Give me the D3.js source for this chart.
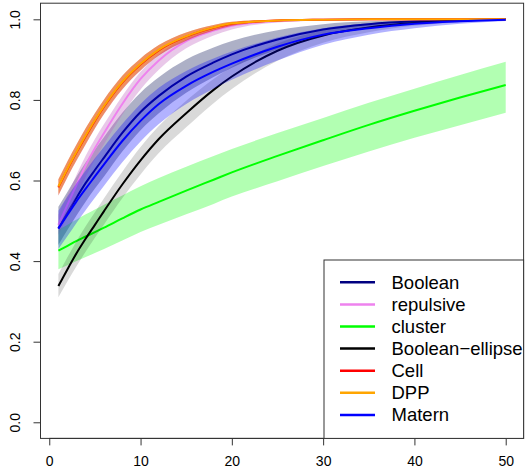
<!DOCTYPE html>
<html><head><meta charset="utf-8">
<script src="https://cdn.jsdelivr.net/npm/d3@7"></script>
<style>body{margin:0;background:#fff}svg{display:block}text{font-family:"Liberation Sans",Arial,sans-serif}</style>
</head><body>
<svg id="c" width="526" height="474"></svg>
<script>
const xs = [1,2,3,4,5,6,8,10,12,15,18,20,25,30,35,40,45,50];

const booleanMean  = [0.481,0.520,0.558,0.594,0.626,0.657,0.718,0.770,0.810,0.858,0.893,0.913,0.950,0.975,0.988,0.995,0.998,1.000];
const booleanLo    = [0.440,0.478,0.514,0.548,0.580,0.610,0.672,0.725,0.767,0.818,0.857,0.880,0.925,0.958,0.978,0.990,0.996,0.999];
const booleanHi    = [0.535,0.572,0.610,0.645,0.677,0.708,0.768,0.818,0.856,0.900,0.930,0.946,0.973,0.988,0.995,0.998,0.999,1.000];

const repulsiveMean = [0.490,0.540,0.590,0.638,0.680,0.718,0.790,0.852,0.898,0.946,0.972,0.984,0.996,0.999,1,1,1,1];
const repulsiveLo   = [0.465,0.513,0.562,0.610,0.652,0.690,0.763,0.826,0.875,0.928,0.960,0.975,0.992,0.997,0.999,1,1,1];
const repulsiveHi   = [0.515,0.565,0.615,0.662,0.703,0.740,0.810,0.870,0.913,0.957,0.980,0.990,0.998,1,1,1,1,1];

const clusterMean = [0.426,0.438,0.450,0.461,0.472,0.483,0.506,0.528,0.547,0.575,0.602,0.620,0.661,0.700,0.738,0.773,0.806,0.837];
const clusterLo   = [0.380,0.390,0.400,0.410,0.420,0.430,0.451,0.472,0.490,0.516,0.542,0.560,0.598,0.636,0.672,0.706,0.737,0.768];
const clusterHi   = [0.477,0.490,0.503,0.516,0.528,0.540,0.563,0.586,0.606,0.634,0.661,0.678,0.718,0.755,0.793,0.828,0.862,0.895];

const ellipseMean = [0.338,0.380,0.420,0.456,0.490,0.524,0.590,0.650,0.703,0.767,0.825,0.858,0.922,0.960,0.980,0.991,0.997,1.000];
const ellipseLo   = [0.310,0.350,0.388,0.424,0.458,0.491,0.556,0.615,0.668,0.732,0.792,0.827,0.897,0.942,0.968,0.984,0.993,0.998];
const ellipseHi   = [0.368,0.410,0.450,0.487,0.521,0.556,0.622,0.683,0.735,0.798,0.852,0.882,0.940,0.972,0.988,0.995,0.999,1.000];

const cellMean = [0.583,0.628,0.670,0.710,0.748,0.783,0.843,0.888,0.923,0.957,0.979,0.989,0.997,0.999,1,1,1,1];
const cellLo   = [0.563,0.608,0.650,0.690,0.729,0.765,0.826,0.873,0.910,0.947,0.972,0.984,0.995,0.998,0.999,1,1,1];
const cellHi   = [0.603,0.648,0.690,0.730,0.767,0.801,0.860,0.903,0.936,0.967,0.986,0.994,0.999,1,1,1,1,1];

const dppMean = [0.585,0.630,0.672,0.712,0.750,0.785,0.845,0.890,0.925,0.958,0.980,0.990,0.997,0.999,1,1,1,1];
const dppLo   = [0.567,0.612,0.654,0.694,0.733,0.769,0.830,0.877,0.914,0.950,0.974,0.986,0.995,0.998,0.999,1,1,1];
const dppHi   = [0.603,0.648,0.690,0.730,0.767,0.801,0.860,0.903,0.936,0.967,0.986,0.994,0.999,1,1,1,1,1];

const maternMean = [0.481,0.515,0.549,0.580,0.610,0.640,0.698,0.748,0.790,0.835,0.870,0.890,0.932,0.962,0.978,0.989,0.995,0.999];
const maternLo   = [0.430,0.462,0.495,0.527,0.557,0.587,0.645,0.697,0.740,0.790,0.828,0.850,0.898,0.937,0.962,0.978,0.989,0.996];
const maternHi   = [0.525,0.560,0.594,0.625,0.655,0.684,0.740,0.790,0.830,0.872,0.903,0.920,0.955,0.978,0.990,0.995,0.998,1.000];

const seriesNames  = ["Boolean","repulsive","cluster","Boolean\u2212ellipse","Cell","DPP","Matern"];
const seriesColors = ["#000080","#EE82EE","#00FF00","#000000","#FF0000","#FFA500","#0000FF"];
const bandColors   = ["#4a5080","#c060c0","#00FF00","#000000","#d82a10","#FFA500","#0000FF"];
const bandOpacity  = [0.45,0.35,0.3,0.15,0.55,0.25,0.3];
const xTicks = [0,10,20,30,40,50];
const yTicks = [0,0.2,0.4,0.6,0.8,1.0];

const series = [
  [booleanMean, booleanLo, booleanHi],
  [repulsiveMean, repulsiveLo, repulsiveHi],
  [clusterMean, clusterLo, clusterHi],
  [ellipseMean, ellipseLo, ellipseHi],
  [cellMean, cellLo, cellHi],
  [dppMean, dppLo, dppHi],
  [maternMean, maternLo, maternHi]
].map((s,i)=>({name:seriesNames[i], color:seriesColors[i], band:bandColors[i], op:bandOpacity[i],
  pts: xs.map((x,j)=>({x, m:s[0][j], lo:s[1][j], hi:s[2][j]}))}));

const svg = d3.select("#c");
const L=40.5, R=523.6, T=3.2, B=438.4;
const x = d3.scaleLinear().domain([-0.96,51.96]).range([L,R]);
const y = d3.scaleLinear().domain([-0.04,1.04]).range([B,T]);

svg.append("clipPath").attr("id","clip").append("rect")
  .attr("x",L).attr("y",T).attr("width",R-L).attr("height",B-T);
const g = svg.append("g").attr("clip-path","url(#clip)");

const area = d3.area().x(d=>x(d.x)).y0(d=>y(d.lo)).y1(d=>y(d.hi)).curve(d3.curveMonotoneX);
const line = d3.line().x(d=>x(d.x)).y(d=>y(d.m)).curve(d3.curveMonotoneX);

series.forEach(s=>{
  g.append("path").datum(s.pts).attr("d",area).attr("fill",s.band).attr("fill-opacity",s.op).attr("stroke","none");
  g.append("path").datum(s.pts).attr("d",line).attr("fill","none").attr("stroke",s.color).attr("stroke-width",2);
});

// box
svg.append("rect").attr("x",L).attr("y",T).attr("width",R-L).attr("height",B-T)
  .attr("fill","none").attr("stroke","#333").attr("stroke-width",1);

// x axis
const xa = svg.append("g").attr("transform",`translate(0,${B})`)
  .call(d3.axisBottom(x).tickValues(xTicks).tickSize(7).tickSizeOuter(0).tickPadding(11).tickFormat(d3.format("d")));
xa.select(".domain").attr("d",`M${x(0)},0H${x(50)}`).attr("stroke","#333");
xa.selectAll(".tick line").attr("stroke","#333");
xa.selectAll("text").attr("font-size",14).attr("fill","#000");

// y axis
const ya = svg.append("g").attr("transform",`translate(${L},0)`)
  .call(d3.axisLeft(y).tickValues(yTicks).tickSize(7).tickSizeOuter(0).tickFormat(d3.format(".1f")));
ya.select(".domain").attr("d",`M0,${y(0)}V${y(1)}`).attr("stroke","#333");
ya.selectAll(".tick line").attr("stroke","#333");
ya.selectAll(".tick text").attr("font-size",14).attr("fill","#000")
  .attr("x",0).attr("y",0).attr("dy","0.35em").attr("text-anchor","middle")
  .attr("transform","translate(-25.5,0) rotate(-90)");

// legend
const lg = svg.append("g");
lg.append("rect").attr("x",324).attr("y",260).attr("width",R-324).attr("height",B-260)
  .attr("fill","#fff").attr("stroke","#333").attr("stroke-width",1);
series.forEach((s,i)=>{
  const yy = 282.3 + i*22.1;
  lg.append("line").attr("x1",340).attr("x2",375).attr("y1",yy).attr("y2",yy)
    .attr("stroke",s.color).attr("stroke-width",2.5);
  lg.append("text").attr("x",391.5).attr("y",yy).attr("dy","0.35em")
    .attr("font-size",18.5).attr("fill","#000").text(s.name);
});
</script>
</body></html>
